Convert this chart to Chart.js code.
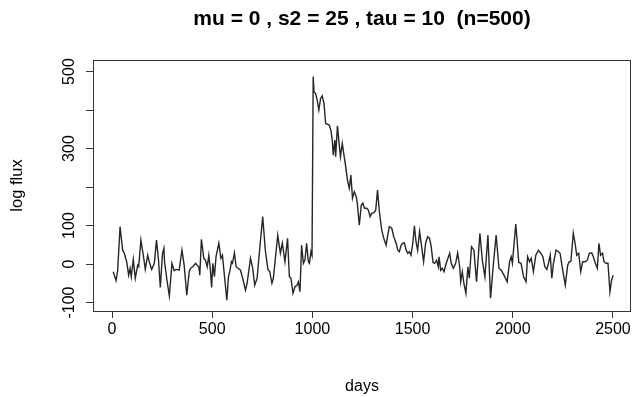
<!DOCTYPE html>
<html>
<head>
<meta charset="utf-8">
<script src="https://cdn.jsdelivr.net/npm/chart.js@4/dist/chart.umd.min.js"></script>
<style>
  html, body { margin: 0; padding: 0; background: #fff; }
  #wrap { width: 634px; height: 397px; }
</style>
</head>
<body>
<div id="wrap"><canvas id="c" width="634" height="397"></canvas></div>
<script>
const chartTitle = "mu = 0 , s2 = 25 , tau = 10  (n=500)";
const xAxisTitle = "days";
const yAxisTitle = "log flux";
const xTickValues = [0, 500, 1000, 1500, 2000, 2500];
const xTickLabels = ["0", "500", "1000", "1500", "2000", "2500"];
const yTickValues = [-100, 0, 100, 200, 300, 400, 500];
const yTickLabels = ["-100", "0", "100", "", "300", "", "500"];

const days = [
  6, 20, 28, 40, 53, 61, 73, 83, 90, 96, 106, 116, 128, 133, 144, 156, 166, 178, 186, 198,
  211, 222, 232, 241, 252, 259, 262, 274, 286, 299, 310, 320, 335, 349, 360, 373, 385,
  392, 403, 417, 425, 433, 438, 446, 458, 466, 475, 483, 490, 497, 503, 511, 519, 533, 543,
  551, 559, 573, 581, 589, 596, 601, 611, 619, 629, 641, 652, 666, 674, 691, 702, 712, 724,
  735, 752, 765, 778, 787, 798, 805, 827, 840, 850, 863, 876, 885, 893, 903, 913, 923, 930,
  938, 946, 955, 963, 971, 980, 985, 993, 998,
  1004, 1008, 1016, 1024, 1032, 1041, 1049, 1058, 1066, 1076, 1084, 1092, 1099, 1104, 1112,
  1116, 1125, 1134, 1140, 1149, 1155, 1165, 1175, 1184, 1192, 1200, 1209,
  1219, 1224, 1234, 1244, 1252, 1260, 1271, 1279, 1288, 1296, 1306, 1316, 1325, 1335, 1346,
  1356, 1368, 1376, 1384, 1396, 1406, 1418, 1426, 1434, 1443, 1451, 1459, 1468, 1476, 1484,
  1492, 1501, 1509, 1517, 1525, 1535, 1545, 1555, 1565, 1575, 1584, 1592, 1602, 1610, 1620,
  1628, 1632, 1640, 1648, 1657, 1665, 1673, 1685, 1693, 1703, 1715, 1725, 1735, 1740, 1748,
  1756, 1766, 1776, 1783, 1794, 1806, 1819, 1836, 1848, 1861, 1876, 1889, 1902, 1917, 1931,
  1942, 1956, 1972, 1984, 1992, 1998, 2015, 2030, 2041,
  2054, 2066, 2074, 2084, 2092, 2103, 2115, 2128, 2140, 2150, 2160, 2170, 2180, 2187, 2195,
  2203, 2216, 2228, 2236, 2249, 2262, 2274, 2282, 2290, 2302, 2311, 2319, 2329, 2339, 2349,
  2361, 2372, 2382, 2394, 2402, 2412, 2422, 2430, 2438, 2448, 2455, 2465, 2475, 2485, 2493, 2501
];
const logFlux = [
  -20, -43, -17, 97, 36, 28, 6, -29, -11, -33, 12, -37, -3, -7, 62, 23, -14, 23, 6, -14,
  2, 62, 10, -61, 28, 41, 6, -42, -83, 2, -17, -14, -16, 36, -3, -81, -20,
  -11, -7, 2, -3, -7, -29, 64, 15, 10, -7, 23, -11, -61, 2, -33, 19, 54, 15,
  23, -20, -94, -33, -16, 6, 2, 29, -7, -11, -16, -37, -68, -50, 15, -11, -55, -37,
  28, 123, 36, -14, -20, -50, -37, 75, 28, 54, 6, 67, -33, -37, -76, -59, -55, -46,
  -72, 49, 2, 11, 54, 6, 2, 32, 23,
  487, 447, 443, 426, 400, 430, 437, 417, 365, 363, 361, 348, 322, 283, 322,
  279, 359, 309, 279, 313, 292, 257, 218, 197, 231, 171, 188,
  175, 158, 101, 153, 158, 145, 145, 140, 123, 132, 133, 140, 192, 132, 88,
  67, 49, 75, 97, 93, 71, 54, 36, 32, 49, 54, 55, 36, 28, 32,
  23, 54, 99, 58, 36, 84, 45, 6, 54, 71, 67, 49, 4, 2, 10,
  -7, 19, -16, -11, -20, -3, 10, 28, 2, -11, 2, 29, -7, -46, -20,
  -50, -76, -7, -37, 45, 36, -46, 80, 10, -33, 75, -89, -7, 75, -11,
  -16, -29, -46, 6, 19, 2, 104, 4, 2,
  -33, -46, 19, 6, 15, -20, 23, 36, 28, 19, -7, -14, 6, 23, -37,
  2, 36, 32, 28, -16, -55, -3, 6, 7, 80, 54, 23, 28, -20, 6,
  6, 10, 28, 29, 19, 2, -11, 54, 23, 28, 6, 2, 2, -72, -42, -29
];

const FONT = "'Liberation Sans', Arial, Helvetica, sans-serif";

const boxAndTitle = {
  id: 'boxAndTitle',
  afterDraw(chart) {
    const { ctx, chartArea: a } = chart;
    ctx.save();
    ctx.strokeStyle = '#333';
    ctx.lineWidth = 1;
    ctx.strokeRect(Math.round(a.left) + 0.5, Math.round(a.top) + 0.5,
                   Math.round(a.right - a.left) - 1, Math.round(a.bottom - a.top));
    ctx.fillStyle = '#000';
    ctx.font = "bold 21px " + FONT;
    ctx.textAlign = 'center';
    ctx.textBaseline = 'middle';
    ctx.fillText(chartTitle, (a.left + a.right) / 2, 19);
    ctx.restore();
  }
};

function labelFor(values, labels) {
  return v => { const i = values.indexOf(v); return i >= 0 ? labels[i] : ''; };
}

new Chart(document.getElementById('c'), {
  type: 'line',
  data: {
    datasets: [{
      data: days.map((d, i) => ({ x: d, y: logFlux[i] })),
      borderColor: '#262626',
      borderWidth: 1.4,
      pointRadius: 0,
      tension: 0,
      fill: false
    }]
  },
  options: {
    responsive: false,
    animation: false,
    events: [],
    layout: { padding: { left: 0, right: 3, top: 60, bottom: 0 } },
    plugins: { legend: { display: false }, tooltip: { enabled: false }, title: { display: false } },
    scales: {
      x: {
        type: 'linear',
        min: -95,
        max: 2590,
        afterBuildTicks(s) { s.ticks = xTickValues.map(v => ({ value: v })); },
        afterFit(s) { s.height = 86; },
        ticks: {
          autoSkip: false,
          maxRotation: 0,
          minRotation: 0,
          padding: 2,
          color: '#000',
          font: { family: FONT, size: 16 },
          callback: labelFor(xTickValues, xTickLabels)
        },
        grid: { drawOnChartArea: false, drawTicks: true, tickLength: 7, color: '#333', tickColor: '#333' },
        border: { display: false },
        title: {
          display: true, text: xAxisTitle, color: '#000',
          font: { family: FONT, size: 16 }, padding: { top: 0, bottom: 1 }
        }
      },
      y: {
        type: 'linear',
        min: -122,
        max: 530,
        afterBuildTicks(s) { s.ticks = yTickValues.map(v => ({ value: v })); },
        afterFit(s) { s.width = 93; },
        ticks: {
          autoSkip: false,
          minRotation: 90,
          maxRotation: 90,
          crossAlign: 'center',
          padding: 0,
          color: '#000',
          font: { family: FONT, size: 16 },
          callback: labelFor(yTickValues, yTickLabels)
        },
        grid: { drawOnChartArea: false, drawTicks: true, tickLength: 7, color: '#333', tickColor: '#333' },
        border: { display: false },
        title: {
          display: true, text: yAxisTitle, color: '#000',
          font: { family: FONT, size: 16.5 }, padding: { top: 8, bottom: 0 }
        }
      }
    }
  },
  plugins: [boxAndTitle]
});
</script>
</body>
</html>
